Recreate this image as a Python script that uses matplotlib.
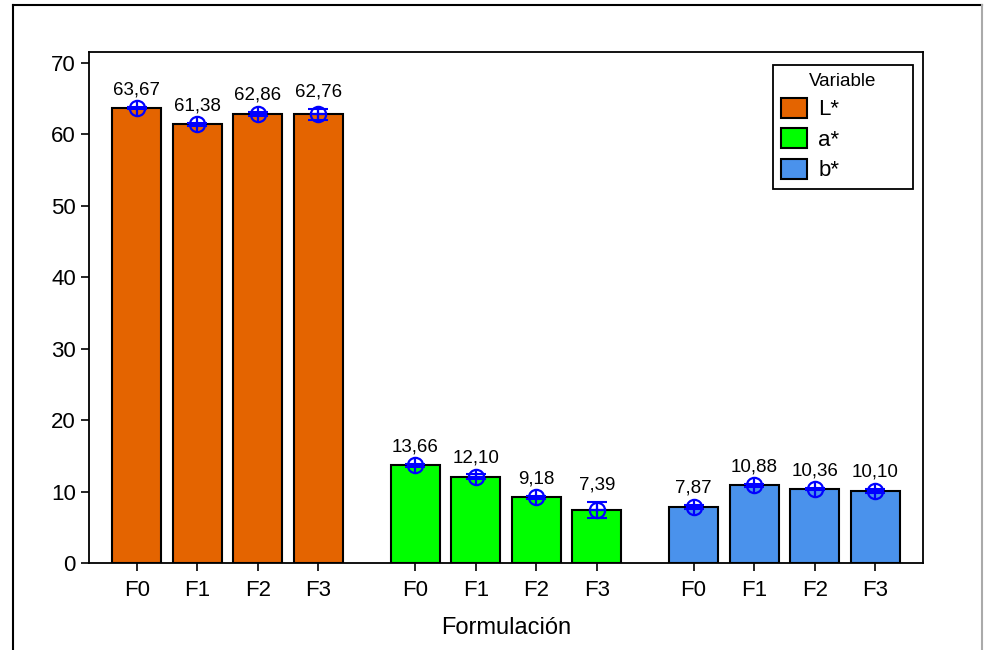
import matplotlib.pyplot as plt
from matplotlib.lines import Line2D

plt.rcParams['font.family'] = ['Liberation Sans', 'DejaVu Sans']

# data
formulaciones = ['F0', 'F1', 'F2', 'F3']
variables = ['L*', 'a*', 'b*']
L_vals = [63.67, 61.38, 62.86, 62.76]
a_vals = [13.66, 12.10, 9.18, 7.39]
b_vals = [7.87, 10.88, 10.36, 10.10]
L_err = [0.2, 0.2, 0.3, 0.75]
a_err = [0.2, 0.3, 0.2, 1.1]
b_err = [0.25, 0.2, 0.2, 0.3]
colores = ['#E46400', '#00FF00', '#4A92EC']

series = [L_vals, a_vals, b_vals]
errores = [L_err, a_err, b_err]

fig = plt.figure(figsize=(9.84, 6.5), dpi=100)
ax = fig.add_axes([89/984, 87/650, 834/984, 511/650])

group_gap = 4.6
xticks = []
xlabels = []
for g in range(3):
    xs = [g*group_gap + i for i in range(4)]
    ax.bar(xs, series[g], width=0.81, color=colores[g], edgecolor='black',
           linewidth=1.5, label=variables[g], zorder=2)
    ax.errorbar(xs, series[g], yerr=errores[g], fmt='none', ecolor='blue',
                elinewidth=1.5, capsize=7.5, capthick=1.5, zorder=3)
    ax.plot(xs, series[g], 'o', mfc='none', mec='blue', ms=11, mew=1.6, zorder=4)
    ax.plot(xs, series[g], '+', color='blue', ms=11, mew=1.6, zorder=4)
    for x, v, e in zip(xs, series[g], errores[g]):
        ax.annotate(f'{v:.2f}'.replace('.', ','), (x, v + e), xytext=(0, 6),
                    textcoords='offset points', ha='center', va='bottom',
                    fontsize=13.5)
    xticks += xs
    xlabels += formulaciones

ax.set_xticks(xticks)
ax.set_xticklabels(xlabels, fontsize=16)
ax.set_yticks(range(0, 71, 10))
ax.tick_params(axis='y', labelsize=16, length=6, width=1.2)
ax.tick_params(axis='x', length=6, width=1.2, pad=6)
ax.set_xlim(-0.79, 12.99)
ax.set_ylim(0, 71.5)
ax.set_xlabel('Formulación', fontsize=17, labelpad=12)
for s in ax.spines.values():
    s.set_linewidth(1.3)

leg = ax.legend(title='Variable', loc='upper right',
                bbox_to_anchor=(0.820, 0.5, 0.168, 0.4746), mode='expand',
                borderaxespad=0, fancybox=False, edgecolor='black', fontsize=16,
                title_fontsize=13.5, handlelength=1.2, handleheight=1.0,
                labelspacing=0.36, handletextpad=0.5, borderpad=0.35)
leg.get_frame().set_linewidth(1.3)
leg.get_frame().set_alpha(1)

# outer frame
fig.add_artist(Line2D([13/984, 13/984], [0, 645/650], color='black', lw=1.5, transform=fig.transFigure))
fig.add_artist(Line2D([13/984, 982/984], [645/650, 645/650], color='black', lw=1.5, transform=fig.transFigure))
fig.add_artist(Line2D([982/984, 982/984], [0, 645/650], color='#AAAAAA', lw=1.5, transform=fig.transFigure))

fig.savefig('out.png', dpi=100)
